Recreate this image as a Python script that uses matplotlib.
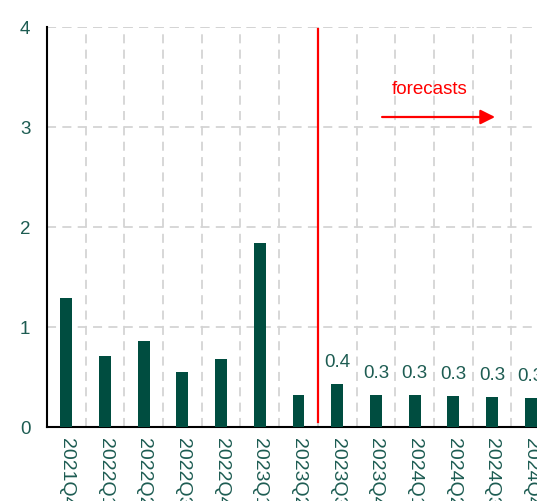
import numpy as np
import matplotlib
matplotlib.use('Agg')
import matplotlib.pyplot as plt

plt.rcParams['font.family'] = ['Liberation Sans', 'DejaVu Sans']

quarters = ['2021Q4', '2022Q1', '2022Q2', '2022Q3', '2022Q4', '2023Q1', '2023Q2',
            '2023Q3', '2023Q4', '2024Q1', '2024Q2', '2024Q3', '2024Q4']
values = [1.29, 0.71, 0.86, 0.55, 0.68, 1.84, 0.32,
          0.43, 0.32, 0.32, 0.31, 0.30, 0.29]
first_forecast = 7  # 2023Q3 onwards are forecasts

barcolor = '#004d40'
textcolor = '#1d5c52'
gridcolor = '#d4d4d4'

fig = plt.figure(figsize=(5.37, 5.01), dpi=100)
# axis runs a bit past the right edge of the figure
ax = fig.add_axes([47/537, 74/501, 503/537, 400/501])

x = np.arange(len(quarters))
bars = ax.bar(x, values, width=0.31, color=barcolor, zorder=3)

for i in range(first_forecast, len(values)):
    ax.text(x[i], values[i] + 0.13, '%.1f' % values[i], ha='center', va='bottom',
            color=textcolor, fontsize=13.5)

ax.set_xlim(-0.5, len(quarters) - 0.5)
ax.set_ylim(0, 4)
ax.set_yticks([0, 1, 2, 3, 4])
ax.set_xticks(x)
ax.set_xticklabels(quarters, rotation=270, color=textcolor, fontsize=14)
ax.tick_params(axis='y', colors=textcolor, labelsize=13.5, length=0, pad=12)
ax.tick_params(axis='x', length=0, pad=8)

# grid: horizontal at the ticks, vertical between the quarters
ax.set_xticks(np.arange(-0.5, len(quarters), 1), minor=True)
ax.yaxis.grid(True, color=gridcolor, ls=(0, (5, 3.5)), lw=1.3, zorder=0)
ax.xaxis.grid(True, which='minor', color=gridcolor, ls=(0, (5, 3.5)), lw=1.3, zorder=0)
ax.tick_params(axis='x', which='minor', length=0)
ax.axhline(4, color=gridcolor, ls=(0, (5, 3.5)), lw=1.3, zorder=0)

for s in ['top', 'right']:
    ax.spines[s].set_visible(False)
ax.spines['left'].set_color('black')
ax.spines['bottom'].set_color('black')
ax.spines['left'].set_linewidth(1.5)
ax.spines['bottom'].set_linewidth(1.5)

# forecast divider and arrow
ax.plot([6.5, 6.5], [0.05, 3.98], color='red', lw=1.6, zorder=4)
ax.annotate('', xy=(11.08, 3.1), xytext=(8.16, 3.1),
            arrowprops=dict(arrowstyle='-|>', color='red', lw=1.6, mutation_scale=22,
                            shrinkA=0, shrinkB=0))
ax.text(9.4, 3.37, 'forecasts', color='red', ha='center', va='center', fontsize=13.5)

fig.savefig('out.png', dpi=100)
